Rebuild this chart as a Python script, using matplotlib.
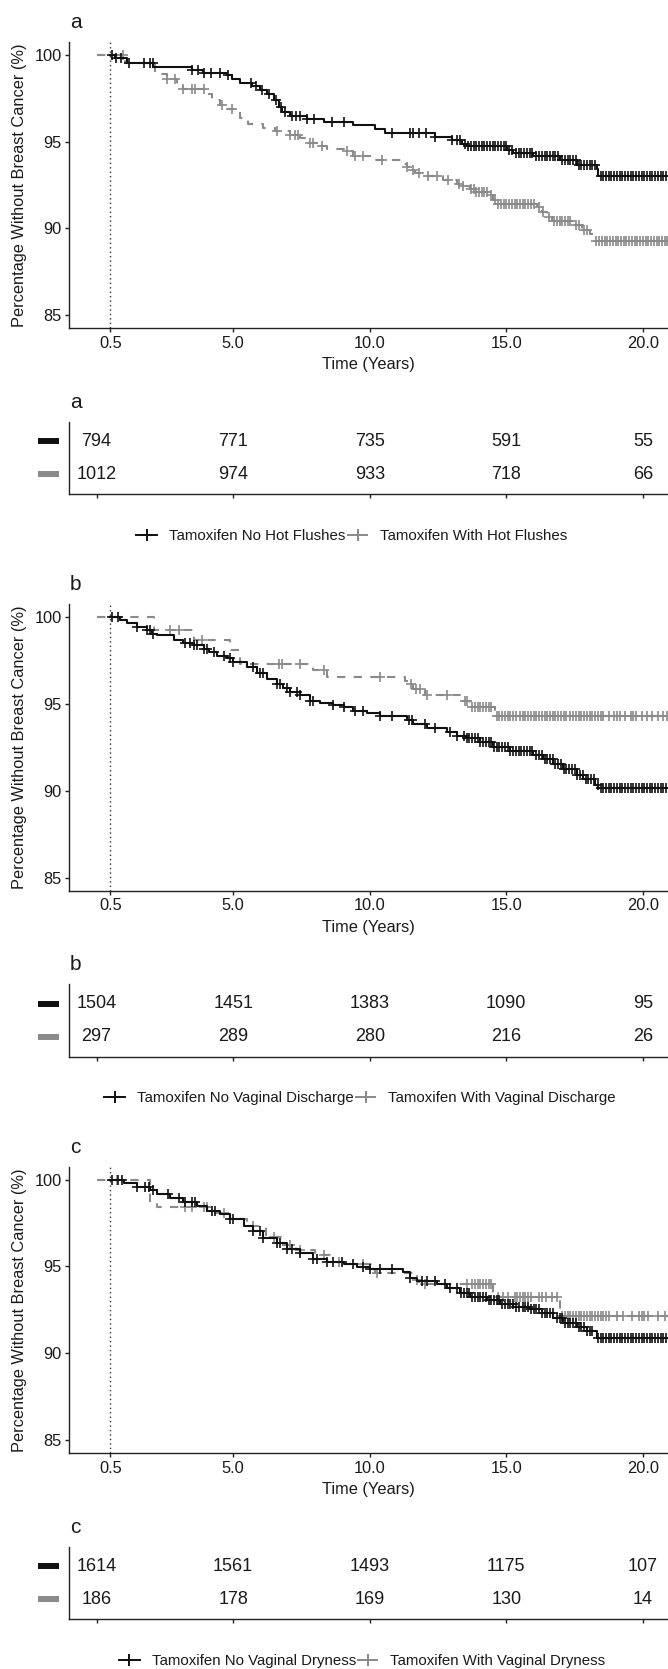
import numpy as np
import matplotlib
matplotlib.use("Agg")
import matplotlib.pyplot as plt
from matplotlib.lines import Line2D
from matplotlib.transforms import blended_transform_factory

plt.rcParams['font.family'] = ['Liberation Sans', 'DejaVu Sans']

# ---- data ----
panel_tags = ['a', 'b', 'c']
group_labels = [
    ('Tamoxifen No Hot Flushes', 'Tamoxifen With Hot Flushes'),
    ('Tamoxifen No Vaginal Discharge', 'Tamoxifen With Vaginal Discharge'),
    ('Tamoxifen No Vaginal Dryness', 'Tamoxifen With Vaginal Dryness'),
]
risk_times = [0, 5, 10, 15, 20]
risk_no = [[794, 771, 735, 591, 55], [1504, 1451, 1383, 1090, 95], [1614, 1561, 1493, 1175, 107]]
risk_with = [[1012, 974, 933, 718, 66], [297, 289, 280, 216, 26], [186, 178, 169, 130, 14]]
t_end = 21.0

# panel a - no hot flushes
a_no_t = [0.5, 0.69, 1.11, 2.08, 3.49, 3.90, 4.77, 4.95, 5.26, 5.69, 5.99, 6.24, 6.48, 6.66, 6.78,
          7.09, 7.70, 8.31, 9.40, 10.20, 10.56, 12.39, 13.00, 13.37, 13.55, 15.02, 15.26, 15.99,
          16.97, 17.58, 18.31, 18.37]
a_no_s = [100, 99.83, 99.52, 99.29, 99.10, 98.96, 98.81, 98.62, 98.37, 98.18, 97.95, 97.72, 97.37,
          96.98, 96.70, 96.45, 96.28, 96.12, 95.93, 95.74, 95.51, 95.26, 95.07, 94.88, 94.72, 94.49,
          94.34, 94.15, 93.92, 93.67, 93.44, 93.02]
a_no_cens = [0.55, 0.72, 0.9, 1.2, 1.75, 1.95, 2.05, 3.5, 3.7, 3.95, 4.2, 4.5, 4.8, 5.65, 5.85, 6.05,
             6.3, 6.55, 6.75, 6.9, 7.15, 7.3, 7.45, 7.7, 7.95, 8.6, 9.05, 10.8, 11.48, 11.6, 11.8,
             12.05, 12.4, 13.0, 13.2, 13.3, 13.5, 13.6, 13.7, 13.8, 13.9, 14.0, 14.1, 14.2, 14.3,
             14.4, 14.5, 14.6, 14.7, 14.8, 14.9, 15.0, 15.1, 15.2, 15.35, 15.45, 15.55, 15.65, 15.75,
             15.85, 15.95, 16.1, 16.2, 16.3, 16.4, 16.5, 16.6, 16.7, 16.8, 16.9, 17.05, 17.15, 17.25,
             17.35, 17.45, 17.55, 17.65, 17.75, 17.85, 17.95, 18.05, 18.15, 18.25, 18.45, 18.55,
             18.65, 18.75, 18.85, 18.95, 19.05, 19.15, 19.25, 19.35, 19.45, 19.55, 19.65, 19.75,
             19.85, 19.95, 20.05, 20.15, 20.25, 20.35, 20.45, 20.55, 20.65, 20.75, 20.85]

# panel a - with hot flushes
a_hf_t = [0, 1.05, 2.15, 2.58, 2.94, 3.18, 4.04, 4.22, 4.53, 4.77, 5.26, 5.56, 6.11, 6.54, 7.09,
          7.45, 7.82, 8.06, 8.43, 9.04, 9.40, 10.20, 11.23, 11.36, 11.48, 11.66, 12.09, 12.70,
          13.19, 13.43, 13.67, 13.86, 14.41, 14.53, 14.65, 16.11, 16.30, 16.48, 16.66, 17.45,
          17.76, 18.06, 18.19]
a_hf_s = [100, 99.55, 98.91, 98.62, 98.33, 98.04, 97.72, 97.37, 97.08, 96.89, 96.37, 96.03, 95.80,
          95.60, 95.36, 95.22, 94.91, 94.72, 94.59, 94.45, 94.15, 93.92, 93.73, 93.53, 93.34, 93.19,
          93.00, 92.77, 92.58, 92.42, 92.29, 92.09, 91.90, 91.62, 91.43, 91.23, 90.95, 90.66, 90.43,
          90.18, 89.89, 89.70, 89.25]
a_hf_cens = [0.95, 2.58, 2.88, 3.18, 3.49, 3.61, 3.92, 4.59, 4.95, 6.60, 7.09, 7.27, 7.39, 7.82,
             7.94, 8.25, 9.16, 9.47, 9.77, 10.44, 11.36, 11.6, 11.79, 12.15, 12.46, 12.88, 13.25,
             13.43, 13.7, 13.8, 13.9, 14.0, 14.1, 14.2, 14.3, 14.45, 14.6, 14.7, 14.8, 14.9, 15.0,
             15.1, 15.2, 15.3, 15.4, 15.5, 15.6, 15.7, 15.8, 15.9, 16.0, 16.2, 16.35, 16.55, 16.75,
             16.85, 16.95, 17.05, 17.15, 17.25, 17.35, 17.55, 17.65, 17.85, 17.95, 18.3, 18.4, 18.5,
             18.6, 18.7, 18.8, 18.9, 19.0, 19.1, 19.2, 19.3, 19.4, 19.5, 19.6, 19.7, 19.8, 19.9,
             20.0, 20.1, 20.2, 20.3, 20.4, 20.5, 20.6, 20.7, 20.8, 20.9]

# panel b - no vaginal discharge
b_no_t = [0.5, 0.87, 1.11, 1.48, 1.84, 2.03, 2.21, 2.82, 3.18, 3.55, 3.92, 4.10, 4.41, 4.77, 5.01,
          5.50, 5.87, 6.23, 6.60, 6.84, 7.09, 7.45, 7.82, 8.18, 8.67, 9.04, 9.40, 9.89, 10.38,
          11.36, 11.60, 12.09, 12.82, 13.19, 13.55, 14.04, 14.53, 15.14, 15.99, 16.36, 16.72,
          17.09, 17.58, 17.82, 18.25, 18.37]
b_no_s = [100, 99.81, 99.65, 99.46, 99.27, 99.04, 98.95, 98.70, 98.50, 98.41, 98.18, 97.98, 97.79,
          97.66, 97.41, 97.12, 96.77, 96.45, 96.16, 95.93, 95.68, 95.49, 95.20, 95.04, 94.95, 94.81,
          94.62, 94.47, 94.28, 94.05, 93.82, 93.63, 93.37, 93.18, 93.05, 92.80, 92.55, 92.32, 92.09,
          91.84, 91.55, 91.26, 90.93, 90.69, 90.36, 90.15]
b_no_cens = [0.56, 0.80, 1.48, 1.84, 1.96, 2.08, 3.25, 3.43, 3.55, 3.67, 3.92, 4.04, 4.28, 4.65,
             4.89, 5.01, 5.74, 5.99, 6.11, 6.60, 6.72, 6.97, 7.09, 7.33, 7.45, 7.82, 7.94, 8.67,
             9.04, 9.46, 9.77, 10.38, 10.81, 11.42, 11.54, 12.03, 12.39, 12.94, 13.19, 13.45, 13.55,
             13.65, 13.75, 13.85, 13.95, 14.05, 14.15, 14.25, 14.35, 14.45, 14.55, 14.65, 14.75,
             14.85, 14.95, 15.05, 15.15, 15.25, 15.35, 15.45, 15.55, 15.65, 15.75, 15.85, 15.95,
             16.1, 16.2, 16.3, 16.4, 16.5, 16.6, 16.7, 16.8, 16.9, 17.0, 17.1, 17.2, 17.3, 17.4,
             17.5, 17.6, 17.7, 17.8, 17.9, 18.0, 18.1, 18.2, 18.35, 18.45, 18.55, 18.65, 18.75,
             18.85, 18.95, 19.05, 19.15, 19.25, 19.35, 19.45, 19.55, 19.65, 19.75, 19.85, 19.95,
             20.05, 20.15, 20.25, 20.35, 20.45, 20.55, 20.65, 20.75, 20.85]

# panel b - with vaginal discharge
b_vd_t = [0, 2.09, 3.55, 4.89, 5.26, 7.94, 8.45, 11.30, 11.48, 11.60, 12.03, 13.43, 13.67, 14.59]
b_vd_s = [100, 99.27, 98.66, 98.08, 97.31, 96.93, 96.58, 96.35, 96.16, 95.87, 95.54, 95.20, 94.81,
          94.28]
b_vd_cens = [2.7, 3.0, 3.86, 6.66, 6.78, 7.45, 8.31, 10.38, 11.5, 11.7, 11.85, 12.09, 12.82, 13.49,
             13.55, 13.75, 13.85, 13.95, 14.05, 14.15, 14.25, 14.35, 14.45, 14.65, 14.75, 14.85,
             14.95, 15.05, 15.15, 15.25, 15.35, 15.5, 15.6, 15.7, 15.8, 15.9, 16.0, 16.1, 16.2,
             16.3, 16.4, 16.5, 16.6, 16.7, 16.8, 16.9, 17.0, 17.1, 17.2, 17.35, 17.45, 17.55, 17.65,
             17.75, 17.85, 17.95, 18.05, 18.15, 18.25, 18.35, 18.45, 18.55, 18.75, 18.95, 19.05,
             19.15, 19.35, 19.55, 19.65, 19.75, 19.95, 20.15, 20.35, 20.55, 20.75, 20.9]

# panel c - no vaginal dryness
c_no_t = [0.5, 0.99, 1.48, 1.96, 2.21, 2.70, 3.18, 3.67, 4.04, 4.53, 4.89, 5.38, 5.74, 6.11, 6.60,
          6.97, 7.45, 7.94, 8.43, 9.04, 9.53, 10.01, 11.23, 11.48, 11.72, 12.46, 12.82, 13.31,
          13.67, 14.28, 14.77, 15.26, 15.87, 16.30, 16.72, 17.09, 17.58, 17.94, 18.31]
c_no_s = [100, 99.81, 99.58, 99.39, 99.14, 98.95, 98.70, 98.47, 98.18, 97.99, 97.70, 97.32, 97.03,
          96.65, 96.36, 95.98, 95.75, 95.44, 95.25, 95.11, 94.98, 94.83, 94.67, 94.35, 94.16, 93.97,
          93.78, 93.49, 93.26, 93.06, 92.82, 92.68, 92.53, 92.34, 92.05, 91.76, 91.53, 91.28, 90.90]
c_no_cens = [0.56, 0.80, 0.93, 1.48, 1.78, 1.90, 2.08, 2.63, 3.00, 3.25, 3.49, 3.61, 4.22, 4.34,
             4.89, 5.01, 5.74, 5.99, 6.11, 6.60, 6.72, 6.97, 7.15, 7.45, 7.94, 8.06, 8.43, 8.67,
             8.98, 9.40, 9.77, 10.01, 10.38, 10.81, 11.48, 11.9, 12.09, 12.39, 12.76, 12.94, 13.19,
             13.35, 13.45, 13.55, 13.65, 13.75, 13.85, 13.95, 14.05, 14.15, 14.25, 14.35, 14.45,
             14.55, 14.65, 14.75, 14.85, 14.95, 15.05, 15.15, 15.25, 15.35, 15.45, 15.6, 15.7, 15.8,
             15.9, 16.0, 16.1, 16.2, 16.3, 16.4, 16.5, 16.6, 16.7, 16.85, 16.95, 17.05, 17.15, 17.25,
             17.35, 17.45, 17.55, 17.65, 17.75, 17.85, 17.95, 18.05, 18.15, 18.35, 18.45, 18.55,
             18.65, 18.75, 18.85, 18.95, 19.05, 19.15, 19.25, 19.35, 19.45, 19.55, 19.65, 19.75,
             19.85, 19.95, 20.05, 20.15, 20.25, 20.35, 20.45, 20.55, 20.65, 20.75, 20.85]

# panel c - with vaginal dryness
c_vd_t = [0, 1.96, 2.21, 4.20, 4.90, 5.50, 6.20, 6.80, 7.30, 8.00, 8.55, 9.10, 10.20, 11.60, 11.80,
          14.53, 16.97]
c_vd_s = [100, 98.66, 98.43, 98.05, 97.75, 97.30, 96.70, 96.25, 95.95, 95.63, 95.25, 95.11, 94.64,
          94.20, 93.97, 93.26, 92.14]
c_vd_cens = [0.75, 3.25, 3.49, 3.92, 4.04, 4.65, 5.74, 6.48, 7.09, 7.45, 8.31, 8.86, 9.77, 10.26,
             11.72, 12.03, 13.55, 13.75, 13.85, 13.95, 14.05, 14.15, 14.25, 14.35, 14.45, 14.71,
             14.89, 15.08, 15.3, 15.4, 15.5, 15.6, 15.7, 15.8, 15.9, 16.2, 16.3, 16.45, 16.66, 16.85,
             17.05, 17.15, 17.25, 17.35, 17.45, 17.55, 17.65, 17.75, 17.85, 17.95, 18.05, 18.15,
             18.25, 18.35, 18.45, 18.55, 18.65, 18.75, 19.04, 19.28, 19.59, 19.85, 19.95, 20.05,
             20.2, 20.56, 20.8]

curves = [
    ((a_no_t, a_no_s, a_no_cens), (a_hf_t, a_hf_s, a_hf_cens)),
    ((b_no_t, b_no_s, b_no_cens), (b_vd_t, b_vd_s, b_vd_cens)),
    ((c_no_t, c_no_s, c_no_cens), (c_vd_t, c_vd_s, c_vd_cens)),
]
legend_x = [352, 360, 362]

BLACK = '#111111'
GREY = '#8a8a8a'
TXT = '#1a1a1a'
W, H = 668, 1669
XLIM = (-1.0, 20.92)

fig = plt.figure(figsize=(W / 100, H / 100), dpi=100)


def px_axes(left, top, right, bottom):
    return fig.add_axes([left / W, 1 - bottom / H, (right - left) / W, (bottom - top) / H])


def style_axes(ax):
    for side in ['top', 'right']:
        ax.spines[side].set_visible(False)
    for side in ['left', 'bottom']:
        ax.spines[side].set_linewidth(1.0)
        ax.spines[side].set_color('#222222')
    ax.tick_params(direction='out', length=3, width=1.0, color='#222222',
                   labelsize=11.8, labelcolor=TXT, pad=2.5)


def km(ax, t, s, cens, color, ls):
    tt = np.append(t, t_end)
    ss = np.append(s, s[-1])
    ax.step(tt, ss, where='post', color=color, lw=1.5, ls=ls, zorder=3)
    cens = np.asarray(cens)
    idx = np.searchsorted(tt, cens, side='right') - 1
    ax.plot(cens, ss[idx], ls='none', marker='+', ms=7, mew=1.2, color=color, zorder=3)


for k in range(3):
    off = k * 562.4
    (t1, s1, c1), (t2, s2, c2) = curves[k]

    # survival panel
    ax = px_axes(69.3, 41.7 + off, 668, 328.3 + off)
    style_axes(ax)
    ax.set_xlim(*XLIM)
    ax.set_ylim(84.25, 100.75)
    ax.axvline(0.5, color='#333333', lw=1.0, ls=(0, (1, 2.2)), zorder=1)
    km(ax, np.array(t2), np.array(s2), c2, GREY, (0, (4, 4)))
    km(ax, np.array(t1), np.array(s1), c1, BLACK, '-')
    ax.set_xticks([0.5, 5, 10, 15, 20])
    ax.set_xticklabels(['0.5', '5.0', '10.0', '15.0', '20.0'])
    ax.set_yticks([85, 90, 95, 100])
    ax.set_xlabel('Time (Years)', fontsize=11.8, color=TXT)
    ax.xaxis.set_label_coords(0.5, -(365 - 328.3) / 286.6)
    ax.xaxis.label.set_va('center')
    ax.set_ylabel('Percentage Without Breast Cancer (%)', fontsize=11.8, color=TXT)
    ax.yaxis.set_label_coords((20 - 69.3) / 598.7, 0.5)
    ax.yaxis.label.set_va('center')
    fig.text(70 / W, 1 - (28 + off) / H, panel_tags[k], fontsize=15, color=TXT,
             ha='left', va='baseline')

    # number at risk table
    tb = px_axes(69.3, 421.7 + off, 668, 494.3 + off)
    style_axes(tb)
    tb.set_xlim(*XLIM)
    tb.set_ylim(2.6, 0.4)
    tb.set_xticks(risk_times)
    tb.set_xticklabels([])
    tb.set_yticks([])
    for x, n1, n2 in zip(risk_times, risk_no[k], risk_with[k]):
        tb.text(x, 1, str(n1), ha='center', va='center', fontsize=13, color=TXT)
        tb.text(x, 2, str(n2), ha='center', va='center', fontsize=13, color=TXT)
    trans = blended_transform_factory(fig.transFigure, tb.transData)
    for row, col in [(1, BLACK), (2, GREY)]:
        tb.plot([38 / W, 59 / W], [row, row], transform=trans, color=col, lw=4.3,
                solid_capstyle='butt', clip_on=False)
    fig.text(70 / W, 1 - (408 + off) / H, panel_tags[k], fontsize=15, color=TXT,
             ha='left', va='baseline')

    # legend
    handles = [Line2D([0], [0], color=BLACK, lw=1.4, marker='+', ms=8, mew=1.4),
               Line2D([0], [0], color=GREY, lw=1.4, ls=(0, (4, 4)), marker='+', ms=8, mew=1.4)]
    fig.legend(handles, list(group_labels[k]), loc='center',
               bbox_to_anchor=(legend_x[k] / W, 1 - (536 + off) / H), ncol=2, frameon=False,
               fontsize=10.8, handlelength=1.4, handletextpad=0.8, columnspacing=0.1,
               labelcolor=TXT)

fig.savefig('out.png', dpi=100)
